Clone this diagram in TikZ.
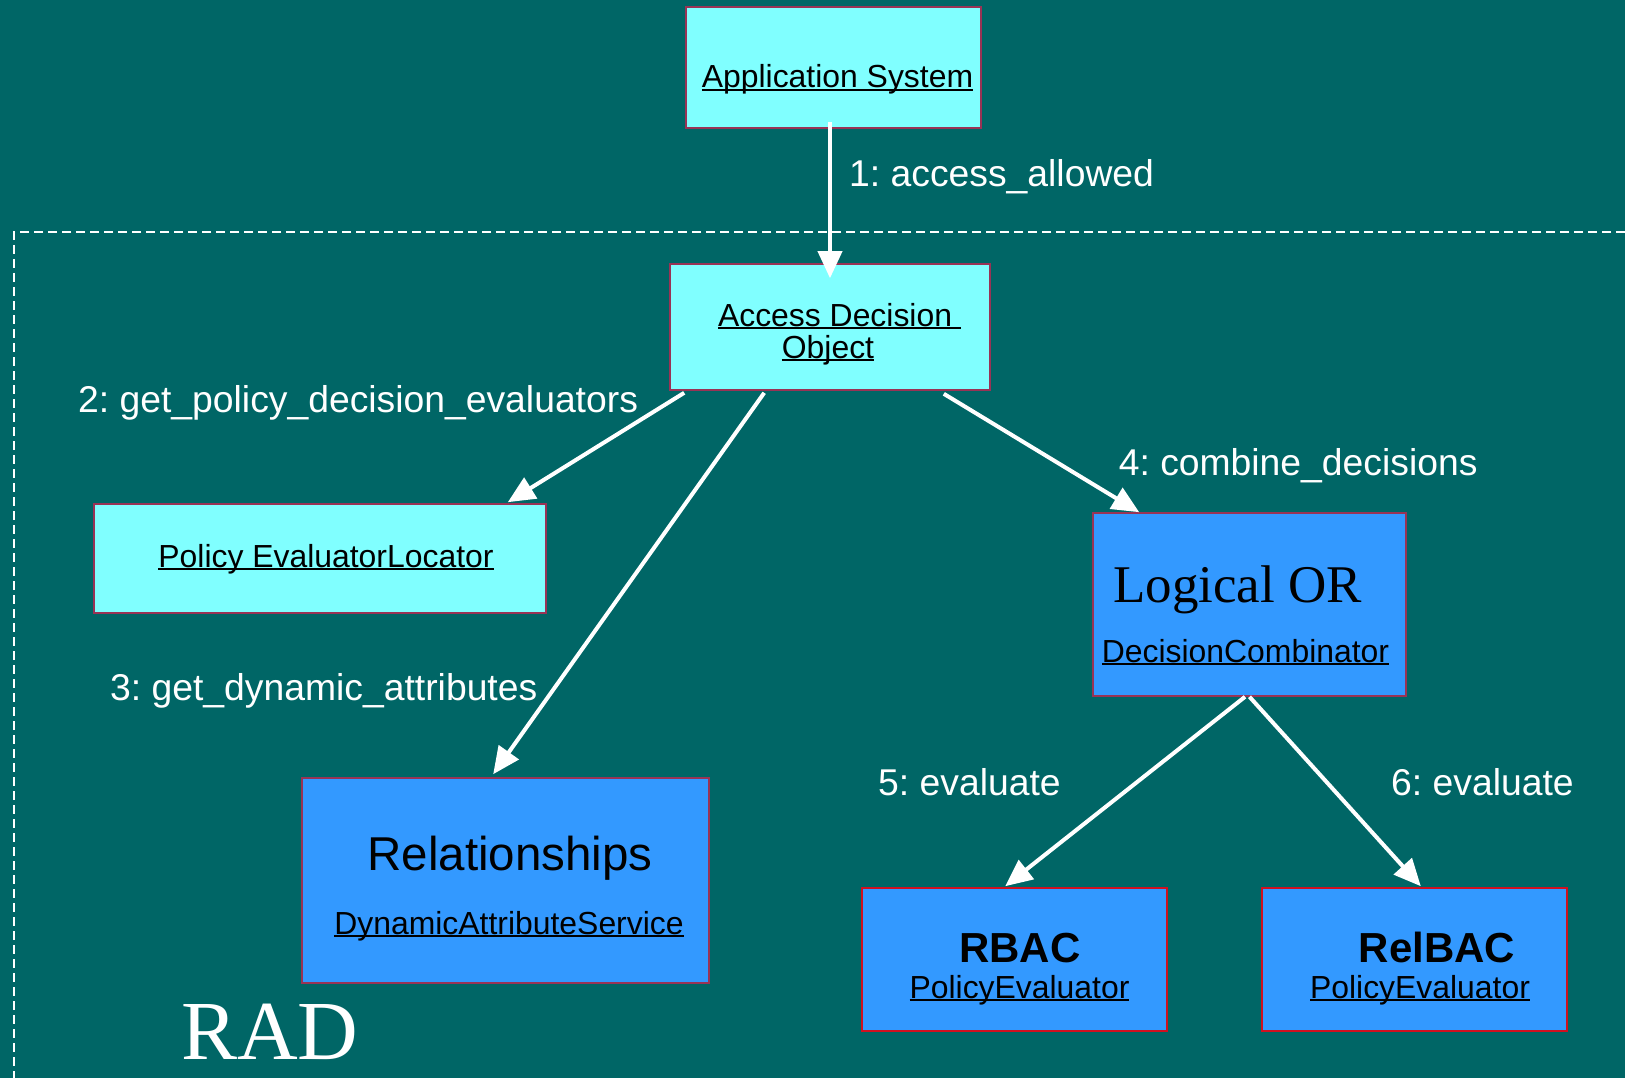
\documentclass[tikz,border=0pt]{standalone}
\usepackage{fontspec}
\setmainfont{Liberation Sans}
\newfontfamily\timesface{Liberation Serif}
\usetikzlibrary{arrows.meta,calc}
\frenchspacing

\definecolor{bgteal}{HTML}{006666}
\definecolor{boxcyan}{HTML}{80FFFF}
\definecolor{boxblue}{HTML}{3399FF}
\definecolor{edgemaroon}{HTML}{993355}
\definecolor{edgered}{HTML}{D01020}

% underline drawn at a fixed depth below the baseline
\newsavebox\ulsave
\newcommand\ultext[1]{\sbox\ulsave{#1}\rlap{\rule[-3.4pt]{\wd\ulsave}{2.2pt}}\usebox\ulsave}

\newcommand\boxfont{\fontsize{31.9}{38}\selectfont}
\newcommand\msgfont{\fontsize{37.3}{44}\selectfont}

\begin{document}
\begin{tikzpicture}[x=1pt,y=-1pt,
  box/.style={draw=edgemaroon,line width=1.6pt,inner sep=0pt,anchor=center},
  cyanbox/.style={box,fill=boxcyan},
  bluebox/.style={box,fill=boxblue},
  txt/.style={inner sep=0pt,anchor=base,text=black,font=\boxfont},
  msg/.style={inner sep=0pt,anchor=base west,text=white,font=\msgfont},
  flow/.style={draw=white,line width=4pt,-{Triangle[length=27pt,width=24pt]}}]

  % canvas
  \fill[bgteal] (0,0) rectangle (1625,1078);
  \useasboundingbox (0,0) rectangle (1625,1078);

  % boundary of the RAD service
  \draw[white,line width=2.2pt,dash pattern=on 9pt off 5pt]
    (1625,232) -- (14,232) -- (14,1078);

  % boxes
  \node[cyanbox,minimum width=295pt,minimum height=121pt] (app) at (833.5,67.5) {};
  \node[cyanbox,minimum width=320pt,minimum height=126pt] (ado) at (830,327) {};
  \node[cyanbox,minimum width=452pt,minimum height=109pt] (pel) at (320,558.5) {};
  \node[bluebox,minimum width=407pt,minimum height=205pt] (rel) at (505.5,880.5) {};
  \node[bluebox,minimum width=313pt,minimum height=183pt] (lor) at (1249.5,604.5) {};
  \node[bluebox,draw=edgered,minimum width=305pt,minimum height=143pt] (rbac) at (1014.5,959.5) {};
  \node[bluebox,draw=edgered,minimum width=305pt,minimum height=143pt] (relbac) at (1414.5,959.5) {};

  % box texts
  \node[txt] (appT) at (837.5,88) {\ultext{Application System}};
  \node[txt] (adoT1) at (839.5,326) {\ultext{Access Decision\ }};
  \node[txt] (adoT2) at (828,358) {\ultext{Object}};
  \node[txt] (pelT) at (326,567) {\ultext{Policy EvaluatorLocator}};
  \node[txt,font=\fontsize{47.5}{56}\selectfont] (relT1) at (510,870) {Relationships};
  \node[txt] (relT2) at (509,934) {\ultext{DynamicAttributeService}};
  \node[txt,font=\fontsize{53}{62}\timesface] (lorT1) at (1237.5,602) {Logical OR};
  \node[txt] (lorT2) at (1245.5,662) {\ultext{DecisionCombinator}};
  \node[txt,font=\fontsize{42}{50}\selectfont\bfseries] (rbacT1) at (1020,962) {RBAC};
  \node[txt] (rbacT2) at (1019.5,998) {\ultext{PolicyEvaluator}};
  \node[txt,font=\fontsize{42}{50}\selectfont\bfseries] (relbacT1) at (1437,962) {RelBAC};
  \node[txt] (relbacT2) at (1420,998) {\ultext{PolicyEvaluator}};

  % service name
  \node[inner sep=0pt,anchor=base west,text=white,font=\fontsize{84}{96}\timesface] (rad) at (181,1059) {RAD};

  % messages
  \draw[flow] ($(app.south)+(-3.5,-7)$) -- ($(ado.north)+(0,15)$);
  \draw[flow] ($(ado.south west)+(15,2)$) -- ($(pel.north east)+(-39,-1)$);
  \draw[flow] ($(ado.south west)+(95,2)$) -- ($(rel.north west)+(192,-3)$);
  \draw[flow] ($(ado.south east)+(-47,3)$) -- ($(lor.north west)+(47,0)$);
  \draw[flow] ($(lor.south)+(-4.5,0)$) -- ($(rbac.north west)+(144,-1)$);
  \draw[flow] ($(lor.south)+(0,0)$) -- ($(relbac.north west)+(159.6,-1)$);

  \node[msg] (m1) at (849,187) {1: access\_allowed};
  \node[msg] (m2) at (78,412) {2: get\_policy\_decision\_evaluators};
  \node[msg] (m3) at (110,700) {3: get\_dynamic\_attributes};
  \node[msg] (m4) at (1118.6,475) {4: combine\_decisions};
  \node[msg] (m5) at (878,795) {5: evaluate};
  \node[msg] (m6) at (1391,795) {6: evaluate};
\end{tikzpicture}
\end{document}
